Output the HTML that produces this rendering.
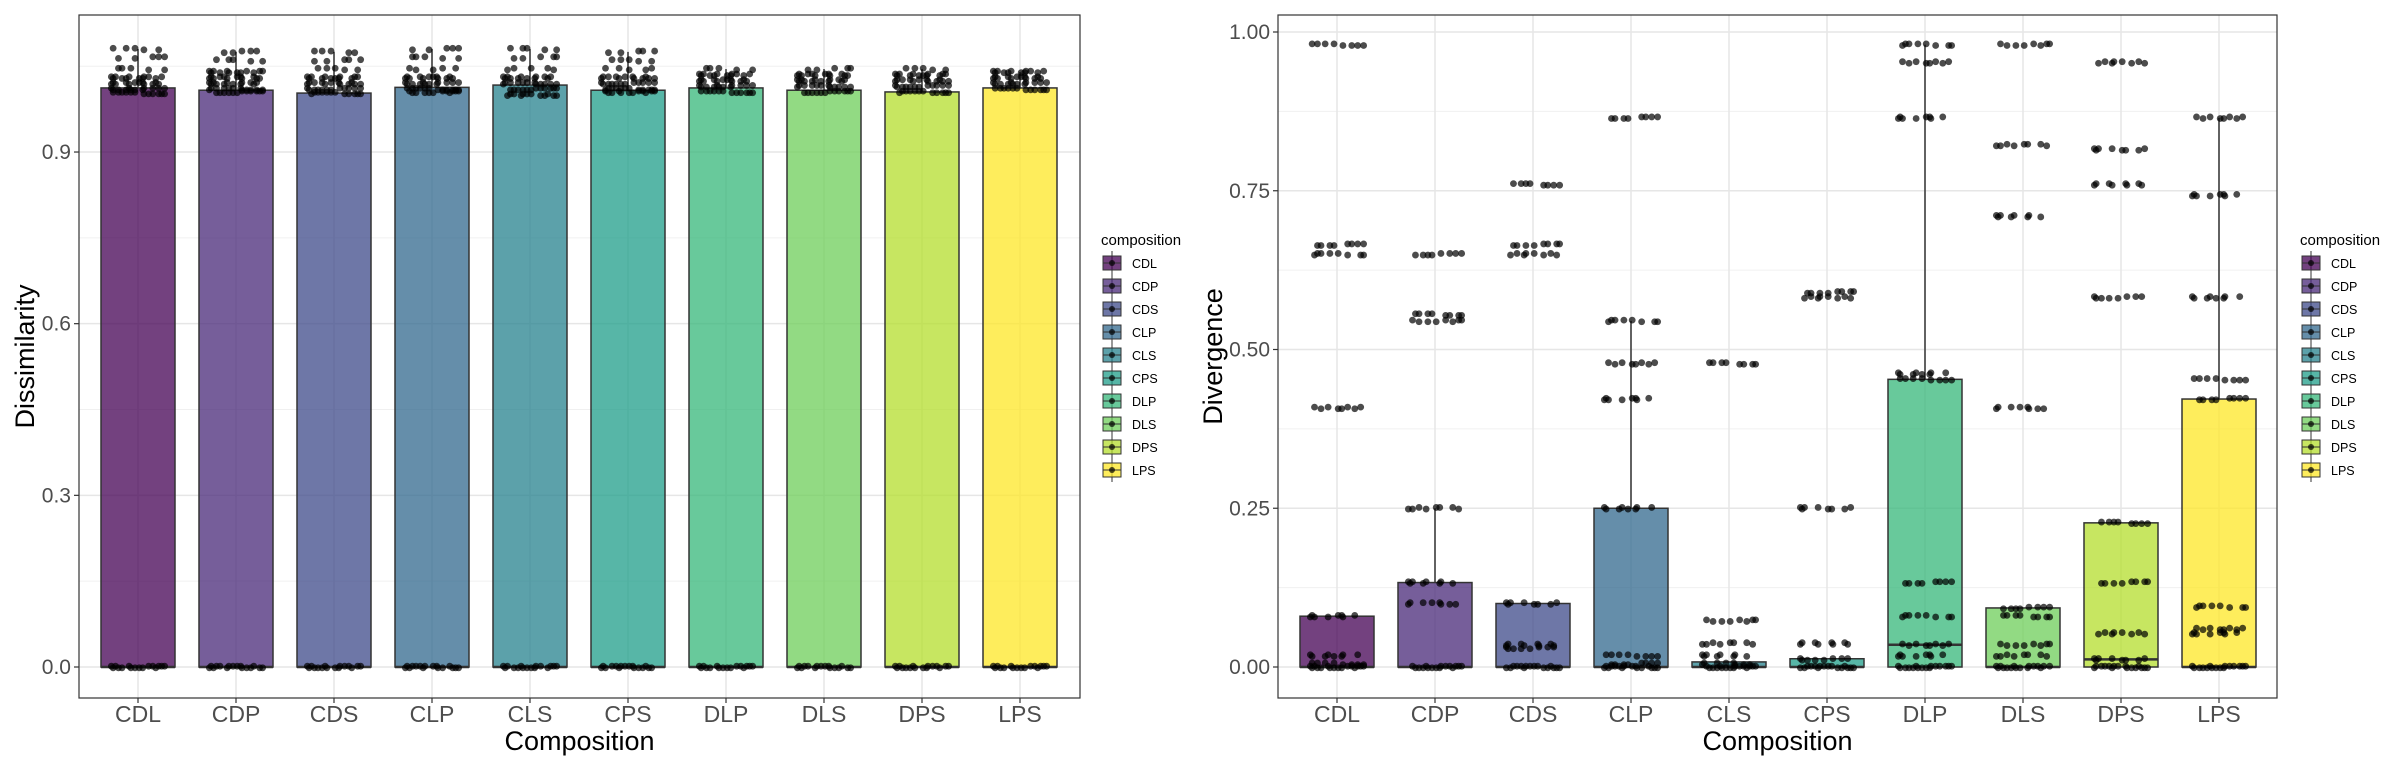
<!DOCTYPE html>
<html><head><meta charset="utf-8"><style>
html,body{margin:0;padding:0;background:#fff;}
svg{display:block;font-family:"Liberation Sans",sans-serif;}
</style></head><body>
<svg id="chart" width="2400" height="768" viewBox="0 0 2400 768" xmlns="http://www.w3.org/2000/svg"></svg>
<script>
const categories=["CDL","CDP","CDS","CLP","CLS","CPS","DLP","DLS","DPS","LPS"];
const colors=["#440154","#482878","#3E4A89","#31688E","#26828E","#1F9E89","#35B779","#6DCD59","#B4DE2C","#FDE725"];
// Left panel (Dissimilarity)
const leftQ3=[1.012,1.008,1.003,1.013,1.017,1.008,1.012,1.008,1.005,1.012];
const leftMedian=[0,0,0,0,0,0,0,0,0,0];
const leftWhiskerTop=[1.08,1.075,1.075,1.08,1.08,1.075,1.045,1.045,1.045,1.04];
const leftLevels=[
 [1.08,1.065,1.045,1.03,1.02,1.01,1.003,0],
 [1.075,1.06,1.04,1.03,1.02,1.01,1.005,0],
 [1.075,1.06,1.045,1.03,1.02,1.01,1.003,0],
 [1.08,1.065,1.045,1.03,1.02,1.01,1.005,0],
 [1.08,1.065,1.045,1.03,1.02,1.01,1.0,0],
 [1.075,1.06,1.045,1.03,1.02,1.01,1.005,0],
 [1.045,1.035,1.025,1.015,1.005,0],
 [1.045,1.035,1.025,1.015,1.005,0],
 [1.045,1.035,1.025,1.015,1.005,0],
 [1.04,1.03,1.02,1.01,0]];
const leftTicks=[0,0.3,0.6,0.9];
const leftTickLabels=["0.0","0.3","0.6","0.9"];
// Right panel (Divergence)
const rightQ3=[0.08,0.133,0.1,0.25,0.008,0.013,0.453,0.093,0.227,0.422];
const rightMedian=[0,0,0,0,0,0,0.035,0,0.012,0];
const rightWhiskerTop=[0.08,0.25,0.1,0.545,0.008,0.013,0.98,0.093,0.227,0.865];
const rightLevels=[
 [0.98,0.665,0.65,0.408,0.08,0.018,0.005,0],
 [0.65,0.555,0.545,0.25,0.133,0.1,0],
 [0.76,0.665,0.65,0.1,0.035,0.03,0],
 [0.865,0.545,0.478,0.422,0.25,0.018,0.005,0],
 [0.478,0.073,0.037,0.018,0.005,0],
 [0.59,0.582,0.25,0.037,0.012,0],
 [0.98,0.952,0.865,0.462,0.453,0.133,0.08,0.035,0.018,0],
 [0.98,0.822,0.71,0.408,0.093,0.08,0.035,0.018,0],
 [0.952,0.815,0.76,0.582,0.227,0.133,0.053,0.012,0],
 [0.865,0.743,0.582,0.453,0.422,0.095,0.06,0.053,0]];
const rightTicks=[0,0.25,0.5,0.75,1.0];
const rightTickLabels=["0.00","0.25","0.50","0.75","1.00"];

const NS="http://www.w3.org/2000/svg";
const svg=document.getElementById('chart');
function mk(tag,attrs,parent){const e=document.createElementNS(NS,tag);for(const k in attrs)e.setAttribute(k,attrs[k]);(parent||svg).appendChild(e);return e;}
const jit=[-0.42,0.1,-0.2,0.35,-0.05,0.25,-0.33,0.45,-0.12,0.18,-0.27,0.4,0.02,-0.38,0.3,-0.15,0.08,-0.45];

function panel(cfg){
 const g=mk('g',{});
 
 
 const L=cfg.left,R=cfg.right,T=15,B=698;
 const y=v=>cfg.y0-(v)*cfg.scale;
 const x=i=>cfg.x0+i*98;
 mk('rect',{x:L,y:T,width:R-L,height:B-T,fill:'#fff'},g);
 for(let i=0;i<cfg.ticks.length;i++){
  const m=cfg.ticks[i]+cfg.step/2; const yy=y(m);
  if(yy>T&&yy<B){mk('line',{x1:L,x2:R,y1:yy,y2:yy,stroke:'#f0f0f0','stroke-width':1},g);}
 }
 cfg.ticks.forEach((t,i)=>{const l=mk('line',{x1:L,x2:R,y1:y(t),y2:y(t),stroke:'#e6e6e6','stroke-width':1.5},g);
  
  mk('line',{x1:L-5,x2:L,y1:y(t),y2:y(t),stroke:'#333','stroke-width':1.2},g);
  const tx=mk('text',{x:L-8,y:y(t)+7,'text-anchor':'end','font-size':21,fill:'#4d4d4d'},g);tx.textContent=cfg.tickLabels[i];
  
 });
 categories.forEach((c,i)=>{mk('line',{x1:x(i),x2:x(i),y1:T,y2:B,stroke:'#e6e6e6','stroke-width':1.5},g);});
 categories.forEach((c,i)=>{
  const cx=x(i),w=74;
  const wk=mk('line',{x1:cx,x2:cx,y1:y(cfg.q3[i]),y2:y(cfg.wt[i]),stroke:'#333','stroke-width':1.5},g);
  
  const h=Math.max(1,y(0)-y(cfg.q3[i]));
  const b=mk('rect',{x:cx-w/2,y:y(cfg.q3[i]),width:w,height:h,fill:colors[i],'fill-opacity':0.75,stroke:'#333','stroke-width':1.5},g);
  
  mk('line',{x1:cx-w/2,x2:cx+w/2,y1:y(cfg.med[i]),y2:y(cfg.med[i]),stroke:'#333','stroke-width':2.5},g);
  cfg.levels[i].forEach((v,k)=>{
   let n=v===0?16:8;
   if(cfg.dense&&v>0.9){n=v>1.04?5:12;}
   for(let j=0;j<n;j++){
    const o=jit[(j+k*3+i)%jit.length]*w*0.8;
    const p=mk('circle',{cx:cx+o,cy:y(v)+((j%2)?0.8:-0.8),r:3.4,fill:'#000','fill-opacity':0.7},g);
    
   }
  });
  mk('line',{x1:cx,x2:cx,y1:B,y2:B+5,stroke:'#333','stroke-width':1.2},g);
  const tl=mk('text',{x:cx,y:722,'text-anchor':'middle','font-size':23,fill:'#4d4d4d'},g);tl.textContent=c;
  
 });
 mk('rect',{x:L,y:T,width:R-L,height:B-T,fill:'none',stroke:'#333','stroke-width':1.2},g);
 const xt=mk('text',{x:(L+R)/2,y:750,'text-anchor':'middle','font-size':27,fill:'#000'},g);xt.textContent='Composition';
 
 const yt=mk('text',{x:0,y:0,'text-anchor':'middle','font-size':27,fill:'#000',transform:`translate(${cfg.ytx},${(T+B)/2}) rotate(-90)`},g);yt.textContent=cfg.ytitle;
 
 const lg=mk('g',{},g);
 const lt=mk('text',{x:cfg.lx-2,y:245,'font-size':15,fill:'#000'},lg);lt.textContent='composition';
 categories.forEach((c,i)=>{
  const yy=263+i*23;
  const e=mk('g',{},lg);
  mk('line',{x1:cfg.lx+9,x2:cfg.lx+9,y1:yy-12,y2:yy+12,stroke:'#333','stroke-width':1},e);
  mk('rect',{x:cfg.lx,y:yy-7,width:18,height:14,fill:colors[i],'fill-opacity':0.75,stroke:'#333','stroke-width':1},e);
  mk('line',{x1:cfg.lx,x2:cfg.lx+18,y1:yy,y2:yy,stroke:'#333','stroke-width':1},e);
  mk('circle',{cx:cfg.lx+9,cy:yy,r:3,fill:'#000','fill-opacity':0.7},e);
  const t=mk('text',{x:cfg.lx+29,y:yy+5,'font-size':12.5,fill:'#000'},e);t.textContent=c;
 });
}
panel({name:'dissimilarity-panel',left:79,right:1080,x0:138,y0:667,scale:572.2,ticks:leftTicks,tickLabels:leftTickLabels,step:0.3,
 q3:leftQ3,med:leftMedian,wt:leftWhiskerTop,levels:leftLevels,dense:true,ytitle:'Dissimilarity',ytx:34,lx:1103});
panel({name:'divergence-panel',left:1278,right:2277,x0:1337,y0:667,scale:635,ticks:rightTicks,tickLabels:rightTickLabels,step:0.25,
 q3:rightQ3,med:rightMedian,wt:rightWhiskerTop,levels:rightLevels,dense:false,ytitle:'Divergence',ytx:1222,lx:2302});
</script>
</body></html>
